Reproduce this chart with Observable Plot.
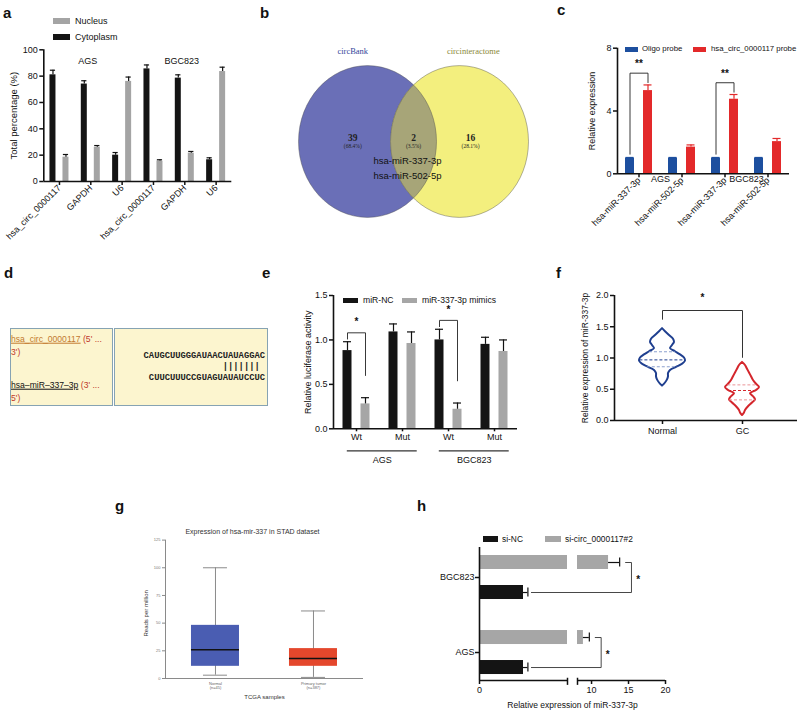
<!DOCTYPE html>
<html><head><meta charset="utf-8">
<script src="https://cdn.jsdelivr.net/npm/d3@7"></script>
<script src="https://cdn.jsdelivr.net/npm/@observablehq/plot@0.6"></script>
<style>
body{margin:0;background:#fff;}
#fig{position:relative;width:800px;height:713px;overflow:hidden;background:#fff;font-family:"Liberation Sans",Arial,sans-serif;color:#111;}
.plet{position:absolute;font-weight:bold;font-size:15px;line-height:15px;}
.sw{position:absolute;}
.lt{position:absolute;white-space:nowrap;transform:translateY(-50%);line-height:1;}
.dbox{position:absolute;box-sizing:border-box;border:1.5px solid #86a3b3;background:#fcf5cf;}
.dt{position:absolute;white-space:nowrap;transform:translateY(-50%);font-size:8.6px;line-height:1;}
.seq{position:absolute;right:535px;white-space:pre;transform:translateY(-50%);font-family:"Liberation Mono","Courier New",monospace;font-weight:bold;font-size:8.8px;line-height:1;color:#222;}
</style></head>
<body><div id="fig"></div>
<script>
// ================= DATA =================
// a
const aGenes = ["hsa_circ_0000117", "GAPDH", "U6"];
const aCells = ["AGS", "BGC823"];
const aCyto = [81, 74, 20, 85.5, 78.5, 16.5];
const aCytoErr = [3.5, 2.5, 2, 3, 2.5, 1.5];
const aNuc = [18.5, 26, 76, 15.5, 21.5, 83.5];
const aNucErr = [2, 1.3, 3.3, 1, 1.3, 3.3];
const aYTicks = [0, 20, 40, 60, 80, 100];
// b
const vennSets = ["circBank", "circinteractome"];
const vennOnly = [39, 16];
const vennShared = 2;
const vennSharedNames = ["hsa-miR-337-3p", "hsa-miR-502-5p"];
// c
const cMirs = ["hsa-miR-337-3p", "hsa-miR-502-5p"];
const cCells = ["AGS", "BGC823"];
const cSeries = ["Oligo probe", "hsa_circ_0000117 probe"];
const cOligo = [1, 1, 1, 1];
const cOligoErr = [0.04, 0.04, 0.04, 0.04];
const cProbe = [5.3, 1.7, 4.75, 2.05];
const cProbeErr = [0.36, 0.14, 0.3, 0.2];
const cSig = ["**", "", "**", ""];
const cYTicks = [0, 4, 8];
// d
const dCirc = "hsa_circ_0000117";
const dMir = "hsa\u2013miR\u2013337\u20133p";
const dSeqTop = "CAUGCUUGGGAUAACUAUAGGAC";
const dPairs = "               ||||||| ";
const dSeqBottom = "CUUCUUUCCGUAGUAUAUCCUC";
// e
const eSites = ["Wt", "Mut", "Wt", "Mut"];
const eCells = ["AGS", "BGC823"];
const eSeries = ["miR-NC", "miR-337-3p mimics"];
const eNC = [0.88, 1.09, 1.0, 0.95];
const eNCErr = [0.1, 0.09, 0.12, 0.08];
const eMimic = [0.28, 0.96, 0.22, 0.87];
const eMimicErr = [0.07, 0.13, 0.07, 0.13];
const eSig = ["*", "", "*", ""];
const eYTicks = [0, 0.5, 1.0, 1.5];
// f
const fGroups = ["Normal", "GC"];
const fNormalY = [0.55, 0.60, 0.65, 0.70, 0.75, 0.80, 0.85, 0.90, 0.95, 1.00, 1.05, 1.10, 1.15, 1.20, 1.25, 1.30, 1.36, 1.42, 1.47];
const fNormalD = [0, 3, 5, 6, 6, 8, 14, 20, 23, 22, 18, 13, 8, 10, 12, 11, 7, 3, 0];
const fGCY = [0.08, 0.12, 0.16, 0.22, 0.28, 0.33, 0.38, 0.43, 0.48, 0.53, 0.58, 0.64, 0.70, 0.76, 0.82, 0.88, 0.93];
const fGCD = [0, 2, 3, 6, 10, 13, 11, 8, 14, 17, 14, 11, 9, 7, 5, 3, 0];
const fQuartiles = [[0.86, 0.97, 1.1], [0.33, 0.48, 0.57]];
const fYTicks = [0, 0.5, 1.0, 1.5, 2.0];
// g
const gGroups = ["Normal", "Primary tumor"];
const gN = ["(n=45)", "(n=387)"];
const gMin = [3, 1];
const gQ1 = [11, 11];
const gMedian = [26, 18];
const gQ3 = [48, 27];
const gMax = [100, 61];
const gYTicks = [0, 25, 50, 75, 100, 125];
// h
const hCells = ["BGC823", "AGS"];
const hSeries = ["si-NC", "si-circ_0000117#2"];
const hNC = [1.0, 1.0];
const hNCErr = [0.1, 0.1];
const hSi = [12.3, 8.9];
const hSiErr = [1.5, 0.8];
const hXTicks = [0, 10, 15, 20];
const hBreak = [2, 8.1];

// ================= HELPERS =================
const fig = document.getElementById("fig");
const SANS = "'Liberation Sans', Arial, Helvetica, sans-serif";
const SERIF = "'Liberation Serif', 'Times New Roman', serif";
const W = 800, H = 713;
const INK = "#111";
function frame(x0, x1, y0, y1) {
  return {width: W, height: H, marginLeft: x0, marginRight: W - x1, marginTop: y0, marginBottom: H - y1};
}
function sty(fs) {
  return {background: "transparent", overflow: "visible", position: "absolute", left: "0px", top: "0px",
          fontFamily: SANS, fontSize: fs + "px", color: INK};
}
function add(el) { fig.appendChild(el); return el; }
function html(s) { const t = document.createElement("template"); t.innerHTML = s.trim(); return add(t.content.firstChild); }
function swatch(x, y, w, h, color, text, tx, fs) {
  html(`<div class="sw" style="left:${x}px;top:${y - h / 2}px;width:${w}px;height:${h}px;background:${color}"></div>`);
  html(`<div class="lt" style="left:${tx}px;top:${y}px;font-size:${fs}px">${text}</div>`);
}
function letter(t, x, baseline) {
  html(`<div class="plet" style="left:${x}px;top:${baseline - 12}px">${t}</div>`);
}
function yLabel(text, dx, fs, extra = {}) {
  return Plot.text([text], {frameAnchor: "left", textAnchor: "middle", rotate: -90, dx, fontSize: fs, ...extra});
}

// ================= PANEL a =================
{
  const x0 = 43.3, x1 = 231.3, step = (x1 - x0) / 6;
  const off = 6.5 / step, hw = 3 / step, cap = 2.6 / step;
  const col = {Cytoplasm: "#141414", Nucleus: "#a4a4a4"};
  const rows = [];
  aCyto.forEach((v, i) => rows.push({s: "Cytoplasm", c: i - off, v, e: aCytoErr[i]}));
  aNuc.forEach((v, i) => rows.push({s: "Nucleus", c: i + off, v, e: aNucErr[i]}));
  add(Plot.plot({
    ...frame(x0, x1, 49.3, 181), style: sty(9),
    x: {domain: [-0.5, 5.5]}, y: {domain: [0, 100]},
    marks: [
      Plot.rectY(rows, {x1: d => d.c - hw, x2: d => d.c + hw, y1: 0, y2: "v", fill: d => col[d.s]}),
      Plot.ruleX(rows, {x: "c", y1: "v", y2: d => d.v + d.e, stroke: INK, strokeWidth: 1.2}),
      Plot.ruleY(rows, {y: d => d.v + d.e, x1: d => d.c - cap, x2: d => d.c + cap, stroke: INK, strokeWidth: 1.2}),
      Plot.ruleX([-0.5], {y1: 0, y2: 100, stroke: INK, strokeWidth: 1.6}),
      Plot.ruleY([0], {stroke: INK, strokeWidth: 1.6}),
      Plot.axisY({ticks: aYTicks, tickSize: 4, tickPadding: 2, strokeWidth: 1.5, label: null}),
      Plot.axisX({ticks: d3.range(6), tickFormat: i => aGenes[i % 3], tickRotate: -45, tickSize: 4, tickPadding: 1, strokeWidth: 1.5, label: null}),
      Plot.text(aCells, {x: (d, j) => j * 3 + 1, frameAnchor: "top", dy: 8, dx: -3, fontSize: 9}),
      yLabel("Total percentage (%)", -30, 9.5)
    ]
  }));
  swatch(53, 21, 17, 6, col.Nucleus, "Nucleus", 75, 9);
  swatch(53, 37, 17, 6, col.Cytoplasm, "Cytoplasm", 75, 9);
}

// ================= PANEL b (Venn) =================
{
  const k = 0.5523;
  const ellipse = {draw(ctx, size) {
    const a = Math.sqrt(size / Math.PI), b = a * 1.1;
    ctx.moveTo(a, 0);
    ctx.bezierCurveTo(a, k * b, k * a, b, 0, b);
    ctx.bezierCurveTo(-k * a, b, -a, k * b, -a, 0);
    ctx.bezierCurveTo(-a, -k * b, -k * a, -b, 0, -b);
    ctx.bezierCurveTo(k * a, -b, a, -k * b, a, 0);
    ctx.closePath();
  }};
  const total = vennOnly[0] + vennOnly[1] + vennShared;
  const pct = n => `(${(100 * n / total).toFixed(1)}%)`;
  const regions = [
    {x: -0.16, n: vennOnly[0]},
    {x: 0.5, n: vennShared},
    {x: 1.12, n: vennOnly[1]}
  ];
  const sets = vennSets.map((s, i) => ({s, i}));
  const names = vennSharedNames.map((s, j) => ({s, j}));
  const R = 69;
  const svg = add(Plot.plot({
    ...frame(367, 459, 65, 217), style: sty(9),
    x: {domain: [0, 1], axis: null}, y: {domain: [0, 1], axis: null},
    marks: [
      Plot.dot([sets[0]], {x: "i", y: () => 0.5, r: R, symbol: ellipse, fill: "#6a6fb7", stroke: "none"}),
      Plot.dot([sets[1]], {x: "i", y: () => 0.5, r: R, symbol: ellipse, fill: "#f3ef7e", stroke: "none"}),
      Plot.dot([sets[0]], {x: "i", y: () => 0.5, r: R, symbol: ellipse, fill: "#a7a578", stroke: "none"}),
      Plot.dot(sets, {x: "i", y: () => 0.5, r: R, symbol: ellipse, fill: "none", stroke: "#4a4a4a", strokeWidth: 0.6, strokeOpacity: 0.7}),
      Plot.text(sets, {x: d => d.i === 0 ? -0.16 : 1.15, frameAnchor: "top", dy: -18, text: "s",
        fill: d => d.i === 0 ? "#34469a" : "#8a8838", fontFamily: SERIF, fontSize: 8.5}),
      Plot.text(regions, {x: "x", y: () => 0.5, text: d => String(d.n), dy: -4, fontFamily: SERIF, fontWeight: "bold", fontSize: 9.5, fill: "#222"}),
      Plot.text(regions, {x: "x", y: () => 0.5, text: d => pct(d.n), dy: 5, fontFamily: SERIF, fontSize: 5.5, fill: "#222"}),
      Plot.text(names.filter(d => d.j === 0), {x: () => 0.435, y: () => 0.5, text: "s", dy: 19, fontSize: 9.5, fill: "#111"}),
      Plot.text(names.filter(d => d.j === 1), {x: () => 0.435, y: () => 0.5, text: "s", dy: 34, fontSize: 9.5, fill: "#111"})
    ]
  }));
  const dots = svg.querySelectorAll('g[aria-label="dot"]');
  if (dots.length >= 3) {
    const pB = dots[1].querySelector("path");
    const ns = "http://www.w3.org/2000/svg";
    const cp = document.createElementNS(ns, "clipPath");
    cp.setAttribute("id", "venn-lens");
    cp.appendChild(pB.cloneNode(true));
    svg.appendChild(cp);
    dots[2].setAttribute("clip-path", "url(#venn-lens)");
  }
}

// ================= PANEL c =================
{
  const x0 = 617, x1 = 789, step = (x1 - x0) / 4;
  const off = 9 / step, hw = 4.5 / step, cap = 4 / step;
  const BLUE = "#1d4f9f", RED = "#e3292a";
  const rows = [];
  cOligo.forEach((v, i) => rows.push({c: i - off, v, e: cOligoErr[i], f: BLUE}));
  cProbe.forEach((v, i) => rows.push({c: i + off, v, e: cProbeErr[i], f: RED}));
  const br = [], stars = [];
  cSig.forEach((s, i) => {
    if (!s) return;
    const top = cProbe[i] + cProbeErr[i] + 0.75;
    br.push({g: i, x: i - off, y: cOligo[i] + 0.25}, {g: i, x: i - off, y: top},
            {g: i, x: i + off, y: top}, {g: i, x: i + off, y: cProbe[i] + cProbeErr[i] + 0.15});
    stars.push({x: i, y: top + 0.6, s});
  });
  add(Plot.plot({
    ...frame(x0, x1, 47.7, 173.3), style: sty(9),
    x: {domain: [-0.5, 3.5]}, y: {domain: [0, 8]},
    marks: [
      Plot.rectY(rows, {x1: d => d.c - hw, x2: d => d.c + hw, y1: 0, y2: "v", fill: "f"}),
      Plot.ruleX(rows, {x: "c", y1: "v", y2: d => d.v + d.e, stroke: "f", strokeWidth: 1.2}),
      Plot.ruleY(rows, {y: d => d.v + d.e, x1: d => d.c - cap, x2: d => d.c + cap, stroke: "f", strokeWidth: 1.2}),
      Plot.line(br, {x: "x", y: "y", z: "g", stroke: "#222", strokeWidth: 0.9}),
      Plot.text(stars, {x: "x", y: "y", text: "s", fontSize: 10, fontWeight: "bold"}),
      Plot.ruleX([-0.5], {y1: 0, y2: 8, stroke: INK, strokeWidth: 1.6}),
      Plot.ruleY([0], {stroke: INK, strokeWidth: 1.6}),
      Plot.axisY({ticks: cYTicks, tickSize: 4, tickPadding: 2, strokeWidth: 1.5, label: null}),
      Plot.axisX({ticks: d3.range(4), tickFormat: i => cMirs[i % 2], tickRotate: -45, tickSize: 4, tickPadding: 1, strokeWidth: 1.5, label: null}),
      Plot.text(cCells, {x: (d, j) => j * 2 + 0.5, y: () => 0, dy: 5, lineAnchor: "middle", fontSize: 9}),
      yLabel("Relative expression", -25, 9)
    ]
  }));
  swatch(625, 49, 13, 5, BLUE, cSeries[0], 642, 7.8);
  swatch(693, 49, 13, 5, RED, cSeries[1], 711, 7.8);
}

// ================= PANEL d =================
{
  html(`<div class="dbox" style="left:10px;top:328px;width:103px;height:78px"></div>`);
  html(`<div class="dbox" style="left:114px;top:328px;width:154px;height:78px"></div>`);
  html(`<div class="dt" style="left:11px;top:339px"><span style="color:#c37a2f;text-decoration:underline">${dCirc}</span> <span style="color:#c0392b">(5' ...</span></div>`);
  html(`<div class="dt" style="left:11px;top:352px;color:#c0392b">3')</div>`);
  html(`<div class="dt" style="left:11px;top:385px"><span style="text-decoration:underline">${dMir}</span> <span style="color:#c0392b">(3' ...</span></div>`);
  html(`<div class="dt" style="left:11px;top:398px;color:#c0392b">5')</div>`);
  html(`<div class="seq" style="top:356px">${dSeqTop}</div>`);
  html(`<div class="seq" style="top:367px">${dPairs}</div>`);
  html(`<div class="seq" style="top:378px">${dSeqBottom}</div>`);
}

// ================= PANEL e =================
{
  const x0 = 333, x1 = 517, step = (x1 - x0) / 4;
  const off = 9 / step, hw = 4.5 / step, cap = 4 / step;
  const BLACK = "#141414", GRAY = "#a6a6a6";
  const rows = [];
  eNC.forEach((v, i) => rows.push({c: i - off, v, e: eNCErr[i], f: BLACK}));
  eMimic.forEach((v, i) => rows.push({c: i + off, v, e: eMimicErr[i], f: GRAY}));
  const br = [], stars = [];
  eSig.forEach((s, i) => {
    if (!s) return;
    const top = eNC[i] + eNCErr[i] + 0.1;
    br.push({g: i, x: i - off, y: eNC[i] + eNCErr[i] + 0.03}, {g: i, x: i - off, y: top},
            {g: i, x: i + off, y: top}, {g: i, x: i + off, y: eMimic[i] + eMimicErr[i] + 0.25});
    stars.push({x: i, y: top + 0.12, s});
  });
  add(Plot.plot({
    ...frame(x0, x1, 295, 428.3), style: sty(9),
    x: {domain: [-0.5, 3.5]}, y: {domain: [0, 1.5]},
    marks: [
      Plot.rectY(rows, {x1: d => d.c - hw, x2: d => d.c + hw, y1: 0, y2: "v", fill: "f"}),
      Plot.ruleX(rows, {x: "c", y1: "v", y2: d => d.v + d.e, stroke: INK, strokeWidth: 1.2}),
      Plot.ruleY(rows, {y: d => d.v + d.e, x1: d => d.c - cap, x2: d => d.c + cap, stroke: INK, strokeWidth: 1.2}),
      Plot.line(br, {x: "x", y: "y", z: "g", stroke: "#222", strokeWidth: 0.9}),
      Plot.text(stars, {x: "x", y: "y", text: "s", fontSize: 10, fontWeight: "bold"}),
      Plot.ruleX([-0.5], {y1: 0, y2: 1.5, stroke: INK, strokeWidth: 1.6}),
      Plot.ruleY([0], {stroke: INK, strokeWidth: 1.6}),
      Plot.axisY({ticks: eYTicks, tickFormat: d3.format(".1f"), tickSize: 4, tickPadding: 2, strokeWidth: 1.5, label: null}),
      Plot.axisX({ticks: d3.range(4), tickFormat: i => eSites[i], tickSize: 3, tickPadding: 2, strokeWidth: 1.5, label: null}),
      Plot.ruleY(eCells, {y: () => 0, x1: (d, j) => j * 2 - 0.2, x2: (d, j) => j * 2 + 1.32, dy: 22, stroke: "#333", strokeWidth: 1.2}),
      Plot.text(eCells, {x: (d, j) => j * 2 + 0.56, y: () => 0, dy: 31, fontSize: 9}),
      yLabel("Relative luciferase activity", -25, 9)
    ]
  }));
  swatch(343, 300, 15, 5, BLACK, eSeries[0], 363, 8.6);
  swatch(402, 300, 15, 5, GRAY, eSeries[1], 422, 8.6);
}

// ================= PANEL f =================
{
  const x0 = 614, x1 = 797, pxPerUnit = 80;
  const k = 1 / pxPerUnit;
  const cols = [{line: "#1f3f8f", light: "#7f95c8"}, {line: "#d4262c", light: "#e8898c"}];
  const profiles = [[fNormalY, fNormalD], [fGCY, fGCD]];
  const areas = profiles.map(([ys, ds], g) => ys.map((y, j) => ({g, y, x1: g - ds[j] * k, x2: g + ds[j] * k})));
  const qrows = [];
  fQuartiles.forEach((qs, g) => {
    const interp = d3.scaleLinear().domain(profiles[g][0]).range(profiles[g][1]);
    qs.forEach((q, j) => qrows.push({g, y: q, w: interp(q) * k, med: j === 1}));
  });
  const topN = d3.max(fNormalY), topG = d3.max(fGCY);
  const bTop = topN + 0.29;
  const br = [{x: 0, y: topN + 0.15}, {x: 0, y: bTop}, {x: 1, y: bTop}, {x: 1, y: topG + 0.08}];
  add(Plot.plot({
    ...frame(x0, x1, 295, 420), style: sty(9),
    x: {domain: [-0.6, -0.6 + (x1 - x0) / pxPerUnit]}, y: {domain: [0, 2]},
    marks: [
      ...areas.map((a, g) => Plot.areaX(a, {y: "y", x1: "x1", x2: "x2", fill: "white", stroke: cols[g].line, strokeWidth: 2, curve: "catmull-rom"})),
      Plot.ruleY(qrows, {y: "y", x1: d => d.g - d.w, x2: d => d.g + d.w, stroke: d => d.med ? cols[d.g].line : cols[d.g].light,
        strokeWidth: d => d.med ? 1 : 0.9, strokeDasharray: "3,2"}),
      Plot.line(br, {x: "x", y: "y", stroke: "#333", strokeWidth: 1}),
      Plot.text(["*"], {x: () => 0.5, y: () => bTop + 0.2, fontSize: 10, fontWeight: "bold"}),
      Plot.ruleX([-0.6], {y1: 0, y2: 2, stroke: INK, strokeWidth: 1.6}),
      Plot.ruleY([0], {stroke: INK, strokeWidth: 1.6}),
      Plot.axisY({ticks: fYTicks, tickFormat: d3.format(".1f"), tickSize: 4, tickPadding: 2, strokeWidth: 1.5, label: null}),
      Plot.axisX({ticks: [0, 1], tickFormat: i => fGroups[i], tickSize: 4, tickPadding: 3, strokeWidth: 1.5, label: null}),
      yLabel("Relative expression of miR-337-3p", -29, 8.5)
    ]
  }));
}

// ================= PANEL g =================
{
  const x0 = 165, x1 = 363, pxPerUnit = 98;
  const bw = 24 / pxPerUnit, cw = 12 / pxPerUnit;
  const fills = ["#4a5db2", "#e4472c"];
  const boxes = gGroups.map((name, i) => ({i, min: gMin[i], q1: gQ1[i], med: gMedian[i], q3: gQ3[i], max: gMax[i]}));
  const yTop = 125;
  add(Plot.plot({
    ...frame(x0, x1, 539.6, 678), style: sty(4.5),
    x: {domain: [-0.51, -0.51 + (x1 - x0) / pxPerUnit]}, y: {domain: [0, yTop]},
    marks: [
      Plot.ruleX(boxes, {x: "i", y1: "min", y2: "max", stroke: "#8a8a8a", strokeWidth: 1}),
      Plot.ruleY(boxes, {y: "max", x1: d => d.i - cw, x2: d => d.i + cw, stroke: "#8a8a8a", strokeWidth: 1}),
      Plot.ruleY(boxes, {y: "min", x1: d => d.i - cw, x2: d => d.i + cw, stroke: "#8a8a8a", strokeWidth: 1}),
      Plot.rectY(boxes, {x1: d => d.i - bw, x2: d => d.i + bw, y1: "q1", y2: "q3", fill: (d) => fills[d.i]}),
      Plot.ruleY(boxes, {y: "med", x1: d => d.i - bw, x2: d => d.i + bw, stroke: "#111", strokeWidth: 1.4}),
      Plot.ruleX([-0.51], {y1: 0, y2: yTop, stroke: "#8a8a8a", strokeWidth: 1}),
      Plot.ruleY([0], {stroke: "#8a8a8a", strokeWidth: 1}),
      Plot.axisY({ticks: gYTicks, tickSize: 3, tickPadding: 2, stroke: "#8a8a8a", fill: "#777", fontSize: 4, label: null}),
      Plot.axisX({ticks: [0, 1], tickFormat: i => gGroups[i] + "\n" + gN[i], tickSize: 0, tickPadding: 4, fill: "#666", fontSize: 4, label: null}),
      Plot.text(["Expression of hsa-mir-337 in STAD dataset"], {frameAnchor: "top", dx: -12, dy: -11, fontSize: 7, fill: "#333"}),
      Plot.text(["TCGA samples"], {frameAnchor: "bottom", dy: 20, fontSize: 6, fill: "#333"}),
      yLabel("Reads per million", -19, 6, {fill: "#333", dy: 4})
    ]
  }));
}

// ================= PANEL h =================
{
  const x0 = 479, x1 = 665;
  // broken axis: value -> display offset (px from axis origin)
  const brk = d3.scaleLinear().domain([0, hBreak[0], hBreak[1], 20]).range([0, 88, 98, x1 - x0]);
  const yDom = [1.373, -0.4]; // bottom, top in group-index units
  const pxPerIdx = 75;
  const off = 15 / pxPerIdx, hh = 7 / pxPerIdx, cap = 4.5 / pxPerIdx;
  const BLACK = "#141414", GRAY = "#a6a6a6";
  const bars = [];
  hCells.forEach((c, i) => {
    bars.push({i, y: i + off, v: hNC[i], e: hNCErr[i], f: BLACK});
    bars.push({i, y: i - off, v: hSi[i], e: hSiErr[i], f: GRAY});
  });
  const segs = [];
  bars.forEach(b => {
    if (b.v > hBreak[1]) { segs.push({...b, a: 0, z: hBreak[0]}); segs.push({...b, a: hBreak[1], z: b.v}); }
    else segs.push({...b, a: 0, z: b.v});
  });
  const br = [], stars = [];
  hCells.forEach((c, i) => {
    const xb = hSi[i] + hSiErr[i] + 1.6;
    br.push({g: i, x: hSi[i] + hSiErr[i] + 0.8, y: i - off}, {g: i, x: xb, y: i - off},
            {g: i, x: xb, y: i + off}, {g: i, x: hNC[i] + hNCErr[i] + 0.08, y: i + off});
    stars.push({x: xb + 0.9, y: i});
  });
  add(Plot.plot({
    ...frame(x0, x1, 547, 680), style: sty(9),
    x: {domain: [0, brk(20)]},
    y: {domain: yDom},
    marks: [
      Plot.rectX(segs, {x1: d => brk(d.a), x2: d => brk(d.z), y1: d => d.y - hh, y2: d => d.y + hh, fill: "f"}),
      Plot.ruleY(bars, {y: "y", x1: d => brk(d.v), x2: d => brk(d.v + d.e), stroke: INK, strokeWidth: 1.2}),
      Plot.ruleX(bars, {x: d => brk(d.v + d.e), y1: d => d.y - cap, y2: d => d.y + cap, stroke: INK, strokeWidth: 1.2}),
      Plot.line(br, {x: d => brk(d.x), y: "y", z: "g", stroke: "#333", strokeWidth: 0.9}),
      Plot.text(stars, {x: d => brk(d.x), y: "y", text: () => "*", dy: 2, fontSize: 10, fontWeight: "bold"}),
      Plot.ruleX([brk(0)], {y1: yDom[0], y2: yDom[1], stroke: INK, strokeWidth: 1.6}),
      Plot.ruleY([yDom[0]], {x1: brk(0), x2: brk(hBreak[0]), stroke: INK, strokeWidth: 1.6}),
      Plot.ruleY([yDom[0]], {x1: brk(hBreak[1]), x2: brk(20), stroke: INK, strokeWidth: 1.6}),
      Plot.ruleX(hBreak.map(brk), {y1: yDom[0] - 0.03, y2: yDom[0] + 0.065, stroke: INK, strokeWidth: 1.5}),
      Plot.axisY({ticks: [0, 1], tickFormat: i => hCells[i], tickSize: 4, tickPadding: 1, strokeWidth: 1.5, label: null}),
      Plot.axisX({ticks: hXTicks.map(brk), tickFormat: (d, i) => String(hXTicks[i]), tickSize: 4, tickPadding: 2, strokeWidth: 1.5, label: null}),
      Plot.text(["Relative expression of miR-337-3p"], {frameAnchor: "bottom", dy: 27, fontSize: 8.5})
    ]
  }));
  swatch(483, 539, 15, 6, BLACK, hSeries[0], 502, 8.4);
  swatch(545, 539, 16, 6, GRAY, hSeries[1], 565, 8.4);
}

// ================= panel letters =================
letter("a", 3, 17);
letter("b", 260, 17);
letter("c", 557, 14);
letter("d", 4, 277);
letter("e", 262, 277);
letter("f", 556, 277);
letter("g", 115, 510);
letter("h", 417, 510);
</script>
</body></html>
